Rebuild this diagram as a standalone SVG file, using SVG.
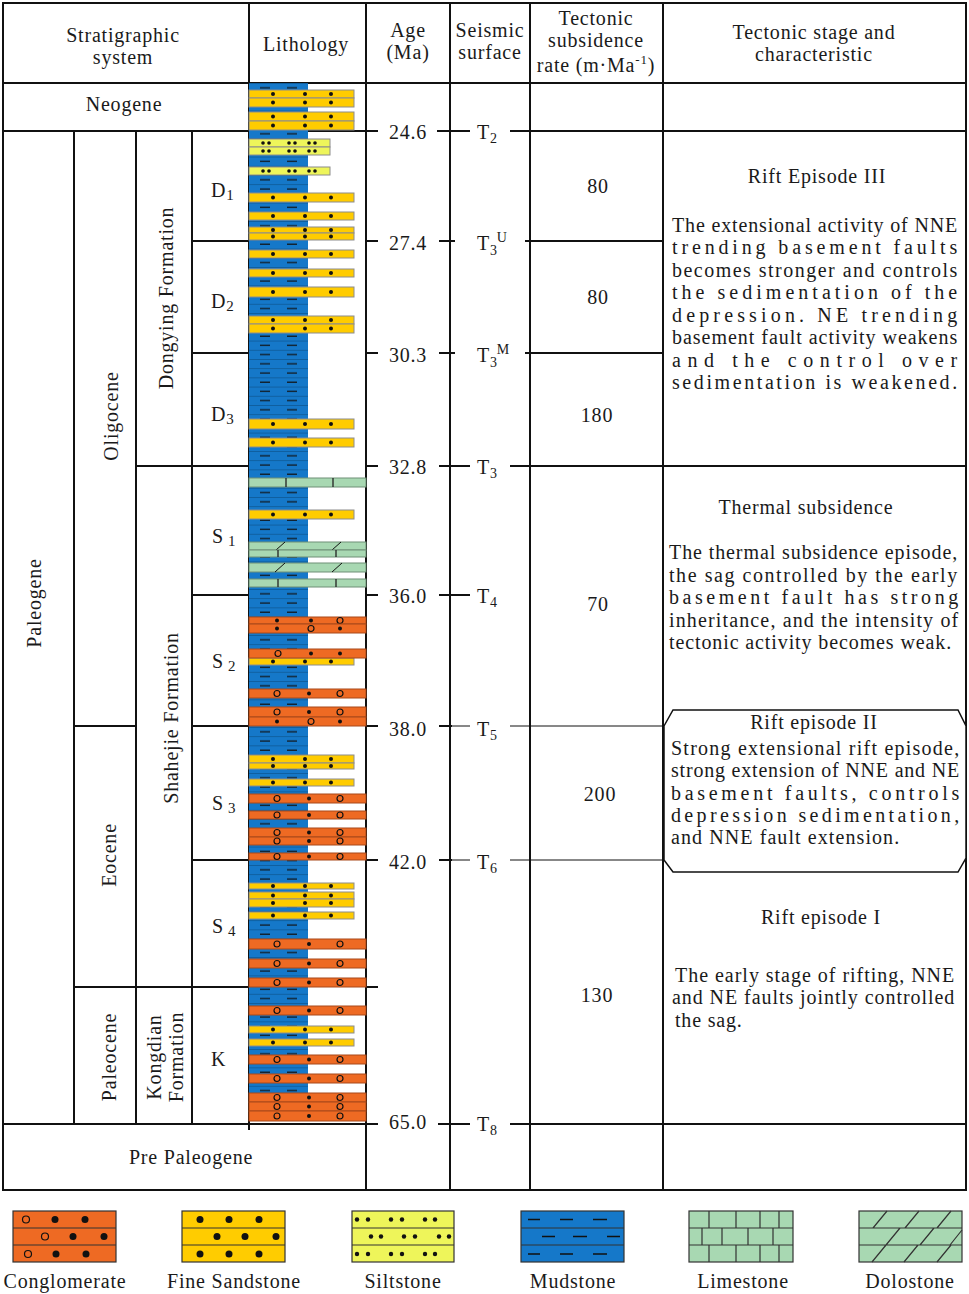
<svg xmlns="http://www.w3.org/2000/svg" xmlns:xlink="http://www.w3.org/1999/xlink" width="969" height="1294" viewBox="0 0 969 1294">
<style>
.t{font-family:"Liberation Serif","DejaVu Serif",serif;font-size:20px;fill:#1a1a1a;letter-spacing:0.8px}
.c{text-anchor:middle}
.g{stroke:#111;stroke-width:2;fill:none}
.th{stroke:#111;stroke-width:1;fill:none}
.ss{fill:#FFCC00;stroke:#8c8c8c;stroke-width:1}
.sl{fill:#EEF55A;stroke:#8c8c8c;stroke-width:1}
.cg{fill:#EE6A23;stroke:#a8481a;stroke-width:1}
.ls{fill:#A8D8B2;stroke:#6f8f76;stroke-width:1}
.bar{stroke:#222;stroke-width:1.3}
.dot{fill:#111}
.oc{fill:none;stroke:#111;stroke-width:1.2}
.lg{stroke:#333;stroke-width:1.2}
</style>
<defs>
<pattern id="mud" patternUnits="userSpaceOnUse" x="249" y="83" width="59" height="9.2">
<rect width="59" height="9.2" fill="#1578C9"/>
<line x1="0" y1="0.4" x2="59" y2="0.4" stroke="#0c5590" stroke-width="0.8"/>
<line x1="11" y1="4.8" x2="21" y2="4.8" stroke="#111" stroke-width="1.2"/>
<line x1="38" y1="4.8" x2="48" y2="4.8" stroke="#111" stroke-width="1.2"/>
</pattern>
<g id="sd"><circle class="dot" cx="273" cy="0" r="2"/><circle class="dot" cx="305" cy="0" r="2"/><circle class="dot" cx="331" cy="0" r="2"/></g>
<g id="ld"><circle class="dot" cx="263" cy="0" r="1.8"/><circle class="dot" cx="269" cy="0" r="1.8"/><circle class="dot" cx="289" cy="0" r="1.8"/><circle class="dot" cx="295" cy="0" r="1.8"/><circle class="dot" cx="309" cy="0" r="1.8"/><circle class="dot" cx="315" cy="0" r="1.8"/></g>
<g id="cA"><circle class="dot" cx="277" cy="0" r="2"/><circle class="dot" cx="311" cy="0" r="2"/><circle class="oc" cx="340" cy="0" r="3"/></g>
<g id="cB"><circle class="dot" cx="277" cy="0" r="2"/><circle class="oc" cx="311" cy="0" r="3"/><circle class="dot" cx="340" cy="0" r="2"/></g>
<g id="cC"><circle class="oc" cx="277" cy="0" r="3"/><circle class="dot" cx="309" cy="0" r="2"/><circle class="oc" cx="340" cy="0" r="3"/></g>
<g id="cD"><circle class="oc" cx="278" cy="0" r="3"/><circle class="dot" cx="311" cy="0" r="2"/><circle class="dot" cx="340" cy="0" r="2"/></g>
</defs>
<rect width="969" height="1294" fill="#fff"/>

<g id="grid">
<rect class="g" x="3" y="3" width="963" height="1187"/>
<path class="g" d="M3,83H966 M3,131H378 M437,131H470 M510,131H966 M192,241H249 M366,241H378 M439,241H455 M525,241H663 M192,353H249 M366,353H378 M439,353H455 M525,353H663 M136,466H249 M366,466H378 M439,466H470 M510,466H966 M192,595H249 M366,595H378 M439,595H470 M74,726H136 M192,726H249 M366,726H378 M439,726H452 M192,860H249 M366,860H378 M439,860H452 M74,987H249 M366,987H378 M3,1124H378 M438,1124H470 M510,1124H966"/>
<path class="g" d="M74,131V1124 M136,131V1124 M192,131V1124 M249,3V1130 M366,3V1190 M450,3V1190 M530,3V1190 M663,3V1190"/>
<path class="th" d="M452,726H470 M510,726H664 M452,860H470 M510,860H664"/>
</g>

<g id="lithology">
<rect x="249" y="83" width="59" height="1028" fill="url(#mud)"/>
<g id="sandstone">
<rect class="ss" x="249" y="90" width="105" height="8"/><use href="#sd" y="94"/>
<rect class="ss" x="249" y="98" width="105" height="9"/><use href="#sd" y="102.5"/>
<rect class="ss" x="249" y="112" width="105" height="9"/><use href="#sd" y="116.5"/>
<rect class="ss" x="249" y="121" width="105" height="9"/><use href="#sd" y="125.5"/>
<rect class="ss" x="249" y="193" width="105" height="9"/><use href="#sd" y="197.5"/>
<rect class="ss" x="249" y="212" width="105" height="8"/><use href="#sd" y="216"/>
<rect class="ss" x="249" y="227" width="105" height="6"/><use href="#sd" y="230"/>
<rect class="ss" x="249" y="233" width="105" height="7"/><use href="#sd" y="236.5"/>
<rect class="ss" x="249" y="250" width="105" height="8"/><use href="#sd" y="254"/>
<rect class="ss" x="249" y="269" width="105" height="8"/><use href="#sd" y="273"/>
<rect class="ss" x="249" y="287" width="105" height="10"/><use href="#sd" y="292"/>
<rect class="ss" x="249" y="316" width="105" height="8"/><use href="#sd" y="320"/>
<rect class="ss" x="249" y="324" width="105" height="9"/><use href="#sd" y="328.5"/>
<rect class="ss" x="249" y="419" width="105" height="10"/><use href="#sd" y="424"/>
<rect class="ss" x="249" y="438" width="105" height="9"/><use href="#sd" y="442.5"/>
<rect class="ss" x="249" y="510" width="105" height="9"/><use href="#sd" y="514.5"/>
<rect class="ss" x="249" y="658" width="105" height="7"/><use href="#sd" y="661.5"/>
<rect class="ss" x="249" y="755" width="105" height="8"/><use href="#sd" y="759"/>
<rect class="ss" x="249" y="763" width="105" height="6"/><use href="#sd" y="766"/>
<rect class="ss" x="249" y="779" width="105" height="7"/><use href="#sd" y="782.5"/>
<rect class="ss" x="249" y="883" width="105" height="6"/><use href="#sd" y="886"/>
<rect class="ss" x="249" y="892" width="105" height="7"/><use href="#sd" y="895.5"/>
<rect class="ss" x="249" y="899" width="105" height="8"/><use href="#sd" y="903"/>
<rect class="ss" x="249" y="912" width="105" height="7"/><use href="#sd" y="915.5"/>
<rect class="ss" x="249" y="1026" width="105" height="7"/><use href="#sd" y="1029.5"/>
<rect class="ss" x="249" y="1039" width="105" height="7"/><use href="#sd" y="1042.5"/>
</g>
<g id="siltstone">
<rect class="sl" x="249" y="139" width="81" height="8"/><use href="#ld" y="143"/>
<rect class="sl" x="249" y="147" width="81" height="8"/><use href="#ld" y="151"/>
<rect class="sl" x="249" y="167" width="81" height="8"/><use href="#ld" y="171"/>
</g>
<g id="limestone-dolostone">
<rect class="ls" x="249" y="478" width="117" height="9"/><path class="bar" d="M286,478V487 M333,478V487"/>
<rect class="ls" x="249" y="542" width="117" height="8"/><path class="th" d="M276,550L285,542 M332,550L341,542"/>
<rect class="ls" x="249" y="550" width="117" height="7"/><path class="bar" d="M278,550V557 M336,550V557"/>
<rect class="ls" x="249" y="563" width="117" height="9"/><path class="th" d="M275,572L285,563 M332,572L342,563"/>
<rect class="ls" x="249" y="579" width="117" height="8"/><path class="bar" d="M278,579V587 M336,579V587"/>
</g>
<g id="conglomerate">
<rect class="cg" x="249" y="617" width="117" height="7"/><use href="#cA" y="620.5"/>
<rect class="cg" x="249" y="624" width="117" height="9"/><use href="#cB" y="628.5"/>
<rect class="cg" x="249" y="649" width="117" height="9"/><use href="#cD" y="653.5"/>
<rect class="cg" x="249" y="689" width="117" height="9"/><use href="#cC" y="693.5"/>
<rect class="cg" x="249" y="707" width="117" height="10"/><use href="#cC" y="712"/>
<rect class="cg" x="249" y="717" width="117" height="9"/><use href="#cB" y="721.5"/>
<rect class="cg" x="249" y="794" width="117" height="9"/><use href="#cC" y="798.5"/>
<rect class="cg" x="249" y="811" width="117" height="8"/><use href="#cC" y="815"/>
<rect class="cg" x="249" y="828" width="117" height="9"/><use href="#cC" y="832.5"/>
<rect class="cg" x="249" y="837" width="117" height="8"/><use href="#cC" y="841"/>
<rect class="cg" x="249" y="853" width="117" height="7"/><use href="#cC" y="856.5"/>
<rect class="cg" x="249" y="939" width="117" height="10"/><use href="#cC" y="944"/>
<rect class="cg" x="249" y="959" width="117" height="9"/><use href="#cC" y="963.5"/>
<rect class="cg" x="249" y="978" width="117" height="9"/><use href="#cC" y="982.5"/>
<rect class="cg" x="249" y="1006" width="117" height="9"/><use href="#cC" y="1010.5"/>
<rect class="cg" x="249" y="1055" width="117" height="9"/><use href="#cC" y="1059.5"/>
<rect class="cg" x="249" y="1074" width="117" height="9"/><use href="#cC" y="1078.5"/>
<rect class="cg" x="249" y="1093" width="117" height="9"/><use href="#cC" y="1097.5"/>
<rect class="cg" x="249" y="1102" width="117" height="9"/><use href="#cC" y="1106.5"/>
<rect class="cg" x="249" y="1111" width="117" height="10"/><use href="#cC" y="1116"/>
</g>
</g>

<g id="header">
<text class="t c" x="123" y="42">Stratigraphic</text>
<text class="t c" x="123" y="64">system</text>
<text class="t c" x="306" y="51">Lithology</text>
<text class="t c" x="408" y="37">Age</text>
<text class="t c" x="408" y="59">(Ma)</text>
<text class="t c" x="490" y="37">Seismic</text>
<text class="t c" x="490" y="59">surface</text>
<text class="t c" x="596" y="25">Tectonic</text>
<text class="t c" x="596" y="47">subsidence</text>
<text class="t c" x="596" y="72">rate (m·Ma<tspan font-size="13" dy="-8">-1</tspan><tspan dy="8">)</tspan></text>
<text class="t c" x="814" y="39">Tectonic stage and</text>
<text class="t c" x="814" y="61">characteristic</text>
</g>

<g id="strat-units">
<text class="t c" x="124" y="111">Neogene</text>
<text class="t c" x="191" y="1164">Pre Paleogene</text>
<text class="t c" transform="translate(41,603) rotate(-90)">Paleogene</text>
<text class="t c" transform="translate(118,416) rotate(-90)">Oligocene</text>
<text class="t c" transform="translate(116,855) rotate(-90)">Eocene</text>
<text class="t c" transform="translate(116,1057) rotate(-90)">Paleocene</text>
<text class="t c" transform="translate(173,298) rotate(-90)">Dongying Formation</text>
<text class="t c" transform="translate(178,718) rotate(-90)">Shahejie Formation</text>
<text class="t c" transform="translate(161,1057) rotate(-90)">Kongdian</text>
<text class="t c" transform="translate(183,1057) rotate(-90)">Formation</text>
<text class="t" x="211" y="197">D<tspan font-size="15" dy="3">1</tspan></text>
<text class="t" x="211" y="308">D<tspan font-size="15" dy="3">2</tspan></text>
<text class="t" x="211" y="421">D<tspan font-size="15" dy="3">3</tspan></text>
<text class="t" x="212" y="543">S<tspan font-size="15" dx="4" dy="3">1</tspan></text>
<text class="t" x="212" y="668">S<tspan font-size="15" dx="4" dy="3">2</tspan></text>
<text class="t" x="212" y="810">S<tspan font-size="15" dx="4" dy="3">3</tspan></text>
<text class="t" x="212" y="933">S<tspan font-size="15" dx="4" dy="3">4</tspan></text>
<text class="t" x="211" y="1066">K</text>
</g>

<g id="ages">
<text class="t c" x="408" y="139">24.6</text>
<text class="t c" x="408" y="250">27.4</text>
<text class="t c" x="408" y="362">30.3</text>
<text class="t c" x="408" y="474">32.8</text>
<text class="t c" x="408" y="603">36.0</text>
<text class="t c" x="408" y="736">38.0</text>
<text class="t c" x="408" y="869">42.0</text>
<text class="t c" x="408" y="1129">65.0</text>
</g>

<g id="seismic">
<text class="t" x="477" y="139">T<tspan font-size="14" dy="4">2</tspan></text>
<text class="t" x="477" y="250">T<tspan font-size="14" dy="5">3</tspan><tspan font-size="14" dx="-1" dy="-13">U</tspan></text>
<text class="t" x="477" y="362">T<tspan font-size="14" dy="5">3</tspan><tspan font-size="14" dx="-1" dy="-13">M</tspan></text>
<text class="t" x="477" y="474">T<tspan font-size="14" dy="4">3</tspan></text>
<text class="t" x="477" y="603">T<tspan font-size="14" dy="4">4</tspan></text>
<text class="t" x="477" y="736">T<tspan font-size="14" dy="4">5</tspan></text>
<text class="t" x="477" y="869">T<tspan font-size="14" dy="4">6</tspan></text>
<text class="t" x="477" y="1131">T<tspan font-size="14" dy="4">8</tspan></text>
</g>

<g id="subsidence">
<text class="t c" x="598" y="193">80</text>
<text class="t c" x="598" y="304">80</text>
<text class="t c" x="597" y="422">180</text>
<text class="t c" x="598" y="611">70</text>
<text class="t c" x="600" y="801">200</text>
<text class="t c" x="597" y="1002">130</text>
</g>

<g id="rift-III">
<text class="t c" x="817" y="183">Rift Episode III</text>
<text class="t" x="672" y="232" textLength="286" lengthAdjust="spacing">The extensional activity of NNE</text>
<text class="t" x="672" y="254" textLength="286" lengthAdjust="spacing">trending basement faults</text>
<text class="t" x="672" y="277" textLength="286" lengthAdjust="spacing">becomes stronger and controls</text>
<text class="t" x="672" y="299" textLength="286" lengthAdjust="spacing">the sedimentation of the</text>
<text class="t" x="672" y="322" textLength="286" lengthAdjust="spacing">depression. NE trending</text>
<text class="t" x="672" y="344" textLength="286" lengthAdjust="spacing">basement fault activity weakens</text>
<text class="t" x="672" y="367" textLength="286" lengthAdjust="spacing">and the control over</text>
<text class="t" x="672" y="389" textLength="286" lengthAdjust="spacing">sedimentation is weakened.</text>
</g>

<g id="thermal">
<text class="t c" x="806" y="514">Thermal subsidence</text>
<text class="t" x="669" y="559" textLength="289" lengthAdjust="spacing">The thermal subsidence episode,</text>
<text class="t" x="669" y="582" textLength="289" lengthAdjust="spacing">the sag controlled by the early</text>
<text class="t" x="669" y="604" textLength="290" lengthAdjust="spacing">basement fault has strong</text>
<text class="t" x="669" y="627" textLength="290" lengthAdjust="spacing">inheritance, and the intensity of</text>
<text class="t" x="669" y="649" textLength="283" lengthAdjust="spacing">tectonic activity becomes weak.</text>
</g>

<g id="rift-II">
<path d="M664,726L673,710H958L966,726V858L958,872H673L664,860Z" fill="#fff" stroke="#111" stroke-width="1.5"/>
<text class="t c" x="814" y="729">Rift episode II</text>
<text class="t" x="671" y="755" textLength="289" lengthAdjust="spacing">Strong extensional rift episode,</text>
<text class="t" x="671" y="777" textLength="289" lengthAdjust="spacing">strong extension of NNE and NE</text>
<text class="t" x="671" y="800" textLength="289" lengthAdjust="spacing">basement faults, controls</text>
<text class="t" x="671" y="822" textLength="289" lengthAdjust="spacing">depression sedimentation,</text>
<text class="t" x="671" y="844" textLength="229" lengthAdjust="spacing">and  NNE fault extension.</text>
</g>

<g id="rift-I">
<text class="t c" x="821" y="924">Rift episode I</text>
<text class="t" x="675" y="982" textLength="280" lengthAdjust="spacing">The early stage of rifting, NNE</text>
<text class="t" x="672" y="1004" textLength="283" lengthAdjust="spacing">and NE faults jointly controlled</text>
<text class="t" x="675" y="1027">the sag.</text>
</g>

<g id="legend">
<g id="lg-conglomerate">
<rect x="13" y="1211" width="103" height="51" fill="#EE6A23" class="lg"/>
<path class="lg" d="M13,1228H116 M13,1245H116"/>
<circle class="oc" cx="26" cy="1219.5" r="3.5"/><circle class="dot" cx="55" cy="1219.5" r="3.5"/><circle class="dot" cx="85" cy="1219.5" r="3.5"/>
<circle class="oc" cx="45" cy="1236.5" r="3.5"/><circle class="dot" cx="73" cy="1236.5" r="3.5"/><circle class="dot" cx="104" cy="1236.5" r="3.5"/>
<circle class="oc" cx="28" cy="1254" r="3.5"/><circle class="dot" cx="56" cy="1254" r="3.5"/><circle class="dot" cx="86" cy="1254" r="3.5"/>
<text class="t c" x="65" y="1288">Conglomerate</text>
</g>
<g id="lg-sandstone">
<rect x="182" y="1211" width="103" height="51" fill="#FFCC00" class="lg"/>
<path class="lg" d="M182,1228H285 M182,1245H285"/>
<circle class="dot" cx="200" cy="1219.5" r="3.5"/><circle class="dot" cx="229" cy="1219.5" r="3.5"/><circle class="dot" cx="259" cy="1219.5" r="3.5"/>
<circle class="dot" cx="217" cy="1236.5" r="3.5"/><circle class="dot" cx="245" cy="1236.5" r="3.5"/><circle class="dot" cx="276" cy="1236.5" r="3.5"/>
<circle class="dot" cx="200" cy="1254" r="3.5"/><circle class="dot" cx="229" cy="1254" r="3.5"/><circle class="dot" cx="259" cy="1254" r="3.5"/>
<text class="t c" x="234" y="1288">Fine Sandstone</text>
</g>
<g id="lg-siltstone">
<rect x="352" y="1211" width="102" height="51" fill="#EEF55A" class="lg"/>
<path class="lg" d="M352,1228H454 M352,1245H454"/>
<g class="dot">
<circle cx="357" cy="1219.5" r="2.2"/><circle cx="368" cy="1219.5" r="2.2"/><circle cx="391" cy="1219.5" r="2.2"/><circle cx="402" cy="1219.5" r="2.2"/><circle cx="425" cy="1219.5" r="2.2"/><circle cx="435" cy="1219.5" r="2.2"/>
<circle cx="371" cy="1236.5" r="2.2"/><circle cx="381" cy="1236.5" r="2.2"/><circle cx="404" cy="1236.5" r="2.2"/><circle cx="415" cy="1236.5" r="2.2"/><circle cx="439" cy="1236.5" r="2.2"/><circle cx="449" cy="1236.5" r="2.2"/>
<circle cx="357" cy="1254" r="2.2"/><circle cx="368" cy="1254" r="2.2"/><circle cx="391" cy="1254" r="2.2"/><circle cx="402" cy="1254" r="2.2"/><circle cx="425" cy="1254" r="2.2"/><circle cx="435" cy="1254" r="2.2"/>
</g>
<text class="t c" x="403" y="1288">Siltstone</text>
</g>
<g id="lg-mudstone">
<rect x="521" y="1211" width="103" height="51" fill="#1578C9" class="lg"/>
<path class="lg" d="M521,1228H624 M521,1245H624"/>
<path stroke="#111" stroke-width="1.3" d="M528,1219.5H540 M560,1219.5H573 M593,1219.5H607 M542,1236.5H555 M573,1236.5H587 M607,1236.5H620 M528,1254H540 M560,1254H573 M593,1254H607"/>
<text class="t c" x="573" y="1288">Mudstone</text>
</g>
<g id="lg-limestone">
<rect x="689" y="1211" width="104" height="51" fill="#A8D8B2" class="lg"/>
<path class="lg" d="M689,1228H793 M689,1245H793 M709,1211V1228 M736,1211V1228 M760,1211V1228 M779,1211V1228 M702,1228V1245 M722,1228V1245 M748,1228V1245 M773,1228V1245 M709,1245V1262 M736,1245V1262 M760,1245V1262 M779,1245V1262"/>
<text class="t c" x="743" y="1288">Limestone</text>
</g>
<g id="lg-dolostone">
<rect x="859" y="1211" width="103" height="51" fill="#A8D8B2" class="lg"/>
<path class="lg" d="M859,1228H962 M859,1245H962 M873,1228L887,1211 M905,1228L919,1211 M937,1228L951,1211 M886,1245L900,1228 M920,1245L934,1228 M950,1245L962,1230 M872,1262L886,1245 M904,1262L918,1245 M937,1262L951,1245"/>
<text class="t c" x="910" y="1288">Dolostone</text>
</g>
</g>
</svg>
